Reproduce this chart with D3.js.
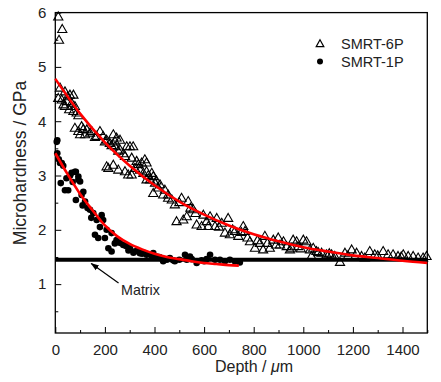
<!DOCTYPE html>
<html><head><meta charset="utf-8">
<script src="https://cdn.jsdelivr.net/npm/d3@7"></script>
<style>
body{margin:0;background:#fff;}
svg{display:block;font-family:"Liberation Sans",Arial,sans-serif;}
</style></head><body>
<svg id="c" width="441" height="382"></svg>
<script>
// SMRT-6P (open triangles): [depth µm, GPa]
const smrt6P = [[12,5.92],[28,5.69],[15,5.49],[19,4.61],[12,4.42],[39,4.54],[59,4.48],[73,4.48],[26,4.39],[46,4.36],[66,4.33],[39,4.27],[56,4.21],[73,4.18],[79,4.27],[86,4.15],[50,4.45],[33,4.30],[93,4.10],
[79,3.87],[93,3.81],[106,3.90],[127,3.84],[120,3.75],[100,3.75],[113,3.85],[140,3.78],[160,3.70],[147,3.81],[167,3.72],[180,3.81],[193,3.72],[200,3.62],[207,3.65],[234,3.75],[220,3.59],[227,3.55],[247,3.69],[241,3.53],[241,3.62],[261,3.65],[261,3.47],[254,3.45],[275,3.40],[288,3.53],[301,3.53],[314,3.53],[281,3.35],[308,3.32],[328,3.26],[335,3.20],[348,3.23],[361,3.29],[368,3.23],[207,3.16],[214,3.13],[234,3.19],[254,3.10],[281,3.07],[294,3.01],[308,3.01],[321,3.13],[341,3.10],[355,3.04],[368,3.07],[375,3.00],[389,3.04],[395,2.98],[368,2.92],[382,2.92],[402,2.86],[408,2.90],[422,2.83],[395,2.67],[415,2.77],[435,2.64],
[442,2.73],[455,2.64],[455,2.58],[470,2.55],[482,2.46],[500,2.50],[509,2.58],[536,2.52],[545,2.40],[556,2.37],[565,2.30],[530,2.24],[489,2.15],[516,2.18],[570,2.09],[597,2.27],[590,2.06],[610,2.15],[624,2.24],[651,2.21],[617,2.06],[644,2.06],[660,2.05],[671,2.12],[697,2.21],[684,1.94],[704,1.91],[715,2.00],[724,1.97],[738,1.88],[750,1.95],[758,2.06],[765,1.97],[775,1.85],[785,1.78],[805,1.66],[815,1.80],[825,1.75],[845,1.88],[838,1.63],[855,1.75],[865,1.66],[879,1.81],[890,1.72],[899,1.85],[906,1.72],[920,1.78],[933,1.69],[946,1.63],[959,1.81],[973,1.78],[979,1.69],[990,1.65],[1000,1.81],[1013,1.78],[953,1.66],[1027,1.63],[1040,1.66],[1033,1.51],[1053,1.60],[1060,1.58],[1074,1.57],[1094,1.54],[1105,1.56],[1114,1.54],[1127,1.51],[1148,1.40],[1168,1.57],[1180,1.52],[1195,1.63],[1215,1.57],[1235,1.51],[1248,1.48],[1268,1.60],[1288,1.54],[1300,1.52],[1322,1.60],[1342,1.54],[1362,1.54],[1382,1.51],[1395,1.50],[1403,1.54],[1423,1.51],[1443,1.51],[1463,1.48],[1483,1.48],[1497,1.51]];

// SMRT-1P (filled circles)
const smrt1P = [[6,3.62],[8,3.65],[8,3.41],[14,3.30],[19,3.23],[22,2.86],[26,3.23],[32,3.18],[39,2.73],[45,2.95],[52,2.73],[60,3.00],[66,3.05],[70,2.88],[79,3.07],[83,3.07],[93,2.92],[93,2.98],[100,2.89],[83,2.55],[106,2.64],[110,2.45],[113,2.70],[120,2.52],[130,2.40],[140,2.37],[145,2.22],[153,2.31],[167,2.18],[180,2.05],[187,2.27],[193,2.18],[160,1.91],[173,1.85],[200,1.85],[207,2.0],[227,1.94],[214,1.66],[227,1.60],[240,1.75],[247,1.81],[260,1.76],[274,1.72],[285,1.70],[295,1.62],[301,1.66],[315,1.58],[320,1.60],[330,1.62],[341,1.57],[350,1.56],[355,1.58],[368,1.54],[380,1.55],[390,1.52],[395,1.57],[409,1.51],[420,1.50],[435,1.45],[435,1.42],[450,1.45],[462,1.48],[475,1.44],[482,1.42],[500,1.45],[523,1.54],[530,1.45],[543,1.51],[550,1.46],[570,1.39],[590,1.44],[600,1.42],[610,1.46],[624,1.54],[644,1.45],[664,1.45],[684,1.42],[704,1.45],[724,1.42],[744,1.40]];

// Fitted curves
const fit6P = [[0,4.78],[100,4.14],[200,3.61],[300,3.18],[400,2.82],[500,2.52],[600,2.28],[700,2.08],[800,1.92],[900,1.79],[1000,1.68],[1100,1.60],[1200,1.53],[1300,1.48],[1400,1.43],[1500,1.39]];
const fit1P = [[0,3.41],[50,3.02],[100,2.66],[150,2.36],[200,2.08],[250,1.88],[300,1.74],[350,1.64],[400,1.56],[450,1.50],[500,1.46],[550,1.42],[600,1.39],[650,1.37],[700,1.35],[740,1.34]];

const matrixLevel = 1.45;
const xTicks = [0,200,400,600,800,1000,1200,1400];
const xMinor = [100,300,500,700,900,1100,1300,1500];
const yTicks = [1,2,3,4,5,6];
const yMinor = [0.5,1.5,2.5,3.5,4.5,5.5];
const seriesNames = ["SMRT-6P","SMRT-1P"];

const L=55.3, R=427.3, T=12.6, B=333;
const svg = d3.select("#c");
const x = d3.scaleLinear().domain([0,1500]).range([L,R]);
const y = d3.scaleLinear().domain([0.1,6]).range([B,T]);

// matrix line
svg.append("line").attr("x1",L).attr("x2",R).attr("y1",y(matrixLevel)).attr("y2",y(matrixLevel))
  .attr("stroke","#000").attr("stroke-width",4);

// axes
const tickFont = "15px";
svg.append("g").attr("transform",`translate(0,${B})`)
  .call(d3.axisBottom(x).tickValues(xTicks).tickSizeInner(-6).tickSizeOuter(0).tickPadding(11).tickFormat(d3.format("d")));
svg.append("g").attr("transform",`translate(${L},0)`)
  .call(d3.axisLeft(y).tickValues(yTicks).tickSizeInner(-6).tickSizeOuter(0).tickPadding(9).tickFormat(d3.format("d")));
svg.append("g").attr("transform",`translate(0,${B})`)
  .call(d3.axisBottom(x).tickValues(xMinor).tickSizeInner(-3).tickSizeOuter(0).tickFormat(""));
svg.append("g").attr("transform",`translate(${L},0)`)
  .call(d3.axisLeft(y).tickValues(yMinor).tickSizeInner(-3).tickSizeOuter(0).tickFormat(""));
svg.selectAll(".domain").remove();
svg.selectAll(".tick line").attr("stroke","#000").attr("stroke-width",1);
svg.selectAll(".tick text").attr("font-size",tickFont).attr("fill","#222")
  .attr("font-family","'Liberation Sans',Arial,sans-serif");

// frame
svg.append("rect").attr("x",L).attr("y",T).attr("width",R-L).attr("height",B-T)
  .attr("fill","none").attr("stroke","#000").attr("stroke-width",1.3);

// triangles
const tri = "M0,-5L4.6,3L-4.6,3Z";
svg.append("g").selectAll("path").data(smrt6P).join("path")
  .attr("d",tri).attr("transform",d=>`translate(${x(d[0])},${y(d[1])})`)
  .attr("fill","none").attr("stroke","#000").attr("stroke-width",1.1);

// circles
svg.append("g").selectAll("circle").data(smrt1P).join("circle")
  .attr("cx",d=>x(d[0])).attr("cy",d=>y(d[1])).attr("r",3.3).attr("fill","#000");

// fits
const line = d3.line().x(d=>x(d[0])).y(d=>y(d[1])).curve(d3.curveMonotoneX);
[fit6P,fit1P].forEach(f=>{
  svg.append("path").attr("d",line(f)).attr("fill","none").attr("stroke","#ff0000").attr("stroke-width",2.6);
});

// Matrix annotation
svg.append("defs").append("marker").attr("id","ah").attr("viewBox","0 0 10 10")
  .attr("refX",9).attr("refY",5).attr("markerWidth",7).attr("markerHeight",7).attr("orient","auto")
  .append("path").attr("d","M0,1.5L10,5L0,8.5Z").attr("fill","#000");
svg.append("line").attr("x1",x(255)).attr("y1",y(1.02)).attr("x2",x(145)).attr("y2",y(1.38))
  .attr("stroke","#000").attr("stroke-width",1.2).attr("marker-end","url(#ah)");
svg.append("text").attr("x",x(265)).attr("y",y(0.80)).attr("font-size","14.3px").attr("fill","#222").text("Matrix");

// legend
svg.append("path").attr("d","M0,-4.2L3.8,2.6L-3.8,2.6Z").attr("transform","translate(320,44)")
  .attr("fill","none").attr("stroke","#000").attr("stroke-width",1.2);
svg.append("circle").attr("cx",320).attr("cy",61.5).attr("r",3).attr("fill","#000");
svg.append("text").attr("x",341).attr("y",48.5).attr("font-size","14.5px").attr("fill","#222").text(seriesNames[0]);
svg.append("text").attr("x",341).attr("y",66.5).attr("font-size","14.5px").attr("fill","#222").text(seriesNames[1]);

// axis titles
const xt = svg.append("text").attr("x",254).attr("y",372).attr("text-anchor","middle").attr("font-size","16px").attr("fill","#222");
xt.append("tspan").text("Depth / ");
xt.append("tspan").attr("font-style","italic").text("μ");
xt.append("tspan").text("m");
svg.append("text").attr("transform","translate(26,163) rotate(-90)").attr("text-anchor","middle")
  .attr("font-size","17.5px").attr("fill","#222").text("Microhardness / GPa");
</script></body></html>
